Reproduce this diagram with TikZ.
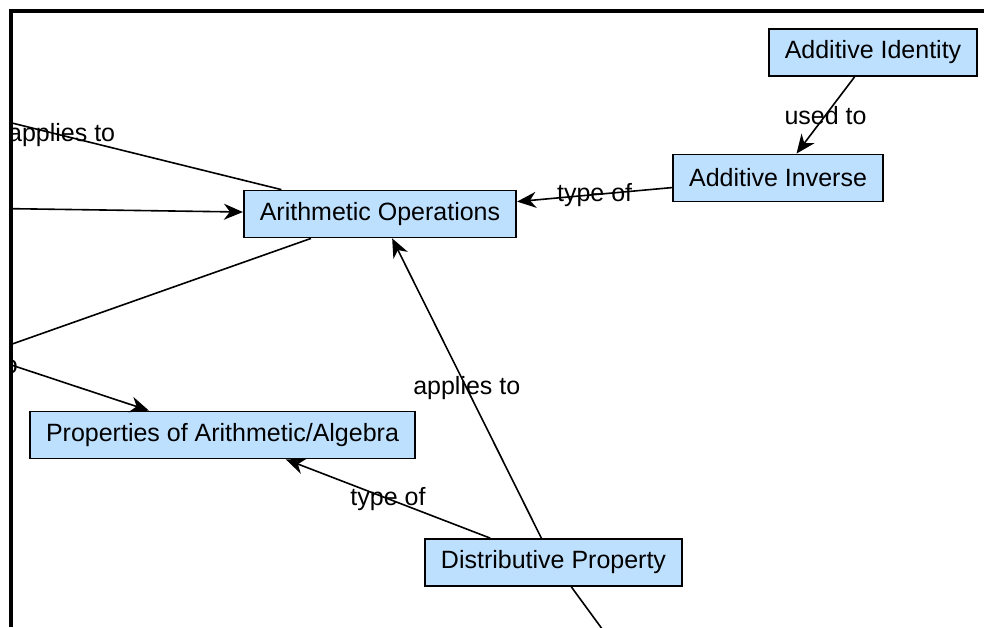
\documentclass[tikz,border=0pt]{standalone}
\usepackage{fontspec}
\setmainfont{Liberation Sans}
\usetikzlibrary{arrows.meta}
\definecolor{conceptBlue}{RGB}{190,224,255}

\begin{document}
\begin{tikzpicture}[
  x=0.5pt, y=-0.5pt,
  concept/.style={draw, line width=0.9pt, fill=conceptBlue, inner xsep=8pt, minimum height=23.5pt, font=\fontsize{12.5}{15}\selectfont},
  link/.style={-{Stealth[length=9.5pt,width=8pt,inset=3pt]}, line width=0.8pt},
  lbl/.style={font=\fontsize{12.5}{15}\selectfont, inner sep=0pt}
]
  \useasboundingbox (0,0) rectangle (984,627);
  \begin{scope}
    \clip (11,11) rectangle (984,627);
    \node[concept] (identity) at (873,52.5) {Additive Identity};
    \node[concept] (inverse) at (778,178) {Additive Inverse};
    \node[concept] (arith) at (380,214) {Arithmetic Operations};
    \node[concept] (props) at (222.5,435) {Properties of Arithmetic/Algebra};
    \node[concept] (distrib) at (553.5,562.5) {Distributive Property};

    % concepts lying outside the visible window
    \coordinate (offUp) at (-158,81);
    \coordinate (offLeft) at (-200,205.6);
    \coordinate (offLow) at (-200,419);
    \coordinate (offProp) at (-230,285);
    \coordinate (offDown) at (643.5,685.5);

    \draw[link] (identity) -- node[lbl] {used to} (inverse);
    \draw[link] (inverse) -- node[lbl] {type of} (arith);
    \draw[link] (distrib) -- node[lbl] {applies to} (arith);
    \draw[link] (distrib) -- node[lbl] {type of} (props);
    \draw[link] (arith) -- node[lbl] {applies to} (offUp);
    \draw[link] (offLeft) -- (arith);
    \draw[link] (arith) -- (offLow);
    \draw[link] (offProp) -- node[lbl, pos=0.656, anchor=east] {applies to} (props);
    \draw[link] (distrib) -- (offDown);
  \end{scope}
  \draw[line width=2pt] (10.5,627) -- (10.5,10.5) -- (984,10.5);
\end{tikzpicture}
\end{document}
